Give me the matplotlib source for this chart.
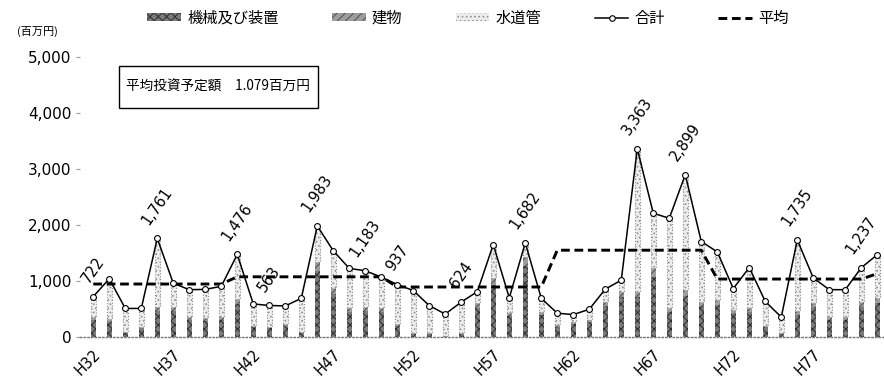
import matplotlib
matplotlib.use("Agg")
import matplotlib.pyplot as plt
from matplotlib.patches import Rectangle, Patch
from matplotlib.lines import Line2D
import numpy as np

plt.rcParams['font.family'] = ['Noto Sans CJK JP', 'DejaVu Sans']
plt.rcParams['hatch.linewidth'] = 0.7
NUM_FONT = ['DejaVu Sans']

# 年度 (H32〜H81)
years = [f"H{n}" for n in range(32, 82)]
tick_years = ["H32", "H37", "H42", "H47", "H52", "H57", "H62", "H67", "H72", "H77"]

# 合計 (百万円)
total = [722, 1040, 510, 510, 1761, 960, 845, 850, 905, 1476,
         590, 563, 555, 690, 1983, 1540, 1225, 1183, 1070, 937,
         830, 560, 410, 624, 810, 1650, 700, 1682, 690, 425,
         400, 495, 855, 1015, 3363, 2210, 2120, 2899, 1705, 1520,
         865, 1240, 635, 355, 1735, 1055, 845, 845, 1237, 1470]

# 機械及び装置 (百万円)
machine = [300, 270, 80, 160, 460, 460, 300, 290, 300, 590,
           170, 160, 200, 80, 1180, 760, 440, 470, 440, 200,
           65, 70, 15, 55, 520, 920, 370, 1260, 390, 185,
           240, 260, 550, 710, 710, 1070, 440, 730, 550, 580,
           420, 440, 170, 55, 400, 540, 300, 310, 540, 610]

# 建物 (百万円)
building = [50, 45, 15, 25, 70, 70, 50, 45, 50, 83,
            30, 25, 30, 15, 165, 110, 70, 70, 70, 30,
            15, 10, 5, 10, 80, 130, 55, 175, 60, 30,
            35, 40, 80, 100, 100, 155, 70, 110, 80, 80,
            60, 70, 30, 10, 60, 75, 50, 53, 80, 90]

# 平均 (10年ごとの平均, 百万円)
average = [946, 946, 946, 946, 946, 946, 946, 946, 946, 1075,
           1075, 1075, 1075, 1075, 1075, 1075, 1075, 1075, 1075, 893,
           893, 893, 893, 893, 893, 893, 893, 893, 893, 1550,
           1550, 1550, 1550, 1550, 1550, 1550, 1550, 1550, 1550, 1035,
           1035, 1035, 1035, 1035, 1035, 1035, 1035, 1035, 1035, 1130]

# 数値を表示する年度
labeled = ["H32", "H36", "H41", "H43", "H46", "H49", "H51", "H55",
           "H59", "H66", "H69", "H76", "H80"]

overall_avg = "1.079"

total = np.array(total)
machine = np.array(machine)
building = np.array(building)
pipe = total - machine - building

fig = plt.figure(figsize=(8.84, 3.85), dpi=100)
ax = fig.add_axes([80 / 884, 48 / 385, 804 / 884, 280 / 385])

x = np.arange(len(years))
w = 0.34
ax.bar(x, machine, w, facecolor='#7a7a7a', edgecolor='#2e2e2e',
       hatch='xxxx', linewidth=0, zorder=2)
ax.bar(x, building, w, bottom=machine, facecolor='#9c9c9c',
       edgecolor='#505050', hatch='////', linewidth=0, zorder=2)
ax.bar(x, pipe, w, bottom=machine + building, facecolor='#ededed',
       edgecolor='#909090', hatch='....', linewidth=0.8,
       linestyle=':', zorder=2)

ax.plot(x, average, color='black', lw=2.1, ls=(0, (3.0, 1.6)), zorder=3)
ax.plot(x, total, color='black', lw=1.1, marker='o', ms=4.2,
        mfc='white', mec='black', mew=0.8, zorder=4)

for yr in labeled:
    i = years.index(yr)
    ax.annotate(f"{total[i]:,}", (i, total[i]), xytext=(0, 8),
                textcoords='offset points', rotation=55,
                ha='center', va='bottom', fontsize=10.5,
                family=NUM_FONT, zorder=5)

ax.set_xlim(-0.83, 49.42)
ax.set_ylim(0, 5000)

for side in ('top', 'right', 'left'):
    ax.spines[side].set_visible(False)
ax.spines['bottom'].set_linestyle(':')
ax.spines['bottom'].set_color('#777777')
ax.spines['bottom'].set_linewidth(1.0)

ax.set_yticks(range(0, 5001, 1000))
ax.set_yticklabels([f"{v:,}" for v in range(0, 5001, 1000)],
                   fontsize=11, family=NUM_FONT)
ax.tick_params(axis='y', length=3, width=0.8, color='#999999', pad=3)

ax.set_xticks([years.index(t) for t in tick_years])
ax.set_xticklabels(tick_years, rotation=45, ha='right',
                   rotation_mode='anchor', fontsize=10.5, family=NUM_FONT)
ax.tick_params(axis='x', length=0, pad=7)

fig.text(17 / 884, 1 - 31 / 385, "(百万円)", fontsize=8, va='center', ha='left')

# 平均投資予定額の枠
fig.add_artist(Rectangle((119 / 884, 1 - 108 / 385), 199 / 884, 42 / 385,
                         transform=fig.transFigure, fill=False,
                         lw=1.0, ec='black'))
fig.text(218 / 884, 1 - 87 / 385, f"平均投資予定額　{overall_avg}百万円",
         fontsize=9.8, ha='center', va='center')

handles = [
    Patch(facecolor='#7a7a7a', edgecolor='#2e2e2e', hatch='xxxx', linewidth=0),
    Patch(facecolor='#9c9c9c', edgecolor='#505050', hatch='////', linewidth=0),
    Patch(facecolor='#ededed', edgecolor='#909090', hatch='....', linewidth=0),
    Line2D([], [], color='black', lw=1.1, marker='o', ms=4, mfc='white',
           mec='black', mew=0.8),
    Line2D([], [], color='black', lw=2.1, ls=(0, (3.0, 1.6))),
]
names = ["機械及び装置", "建物", "水道管", "合計", "平均"]
fig.legend(handles, names, loc='center', bbox_to_anchor=(468 / 884, 1 - 18 / 385),
           ncol=5, frameon=False, fontsize=11, handlelength=2.2,
           handleheight=0.5, handletextpad=0.4, columnspacing=3.5)

fig.savefig("out.png", dpi=100)
